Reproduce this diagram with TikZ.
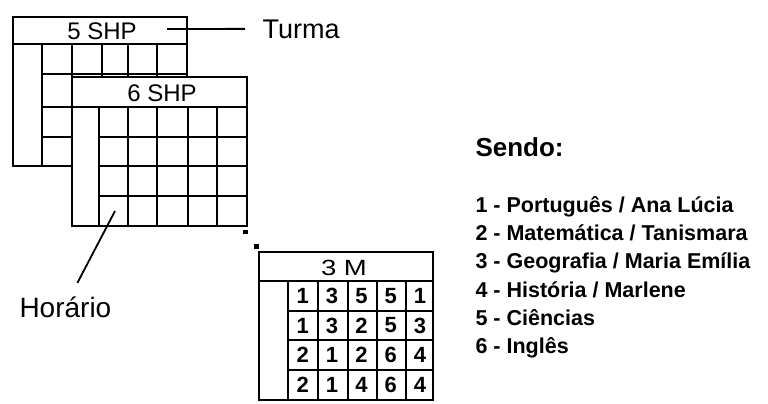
\documentclass[tikz,border=0pt]{standalone}
\usepackage{fontspec}
\setmainfont{Liberation Sans}
\tikzset{
  tab/.style={draw, line width=1.8pt},
  cabec/.style={font=\fontsize{24}{24}\selectfont},
  num/.style={font=\fontsize{22}{22}\selectfont\bfseries},
  rotulo/.style={anchor=base west, font=\fontsize{27}{27}\selectfont},
  item/.style={anchor=base west, font=\fontsize{21.5}{21.5}\selectfont\bfseries},
  liga/.style={line width=1.8pt},
}
\begin{document}
\begin{tikzpicture}[x=1pt,y=-1pt]
\useasboundingbox (0,0) rectangle (768,404);
% turma 5 SHP
\draw[tab] (13,17) rectangle (187,166);
\draw[tab] (13,44) -- (187,44);
\draw[tab] (42,44) -- (42,166);
\foreach \x in {72,102,128,157} \draw[tab] (\x,44) -- (\x,166);
\foreach \y in {74,107,137} \draw[tab] (42,\y) -- (187,\y);
\node[cabec] (T5) at (102,31) {5 SHP};
% turma 6 SHP
\draw[tab, fill=white] (72,77) rectangle (247,226);
\draw[tab] (72,107) -- (247,107);
\draw[tab] (99,107) -- (99,226);
\foreach \x in {128,157,188,217} \draw[tab] (\x,107) -- (\x,226);
\foreach \y in {137,166,196} \draw[tab] (99,\y) -- (247,\y);
\node[cabec] (T6) at (162,93) {6 SHP};
\fill (242.5,229.5) rectangle (248,234);
\fill (253.5,243.5) rectangle (259,248.5);
% turma 3 M
\draw[tab] (259,252) rectangle (433,400);
\draw[tab] (259,281) -- (433,281);
\draw[tab] (288,281) -- (288,400);
\foreach \x in {318,348,377,406} \draw[tab] (\x,281) -- (\x,400);
\foreach \y in {311,340,370} \draw[tab] (288,\y) -- (433,\y);
\node[cabec, font=\fontsize{22}{22}\selectfont, xscale=1.25] (T3) at (344,268) {3 M};
\foreach \linha [count=\i] in {{1,3,5,5,1},{1,3,2,5,3},{2,1,2,6,4},{2,1,4,6,4}}
  \foreach \v [count=\j] in \linha
    \node[num] (n\i\j) at ({273.5+29.3*\j},{266.5+29.5*\i}) {\v};
% rotulos
\coordinate (tu) at (167,29);
\node[rotulo] (turma) at (259,38) {Turma};
\coordinate (hc) at (115,211);
\node[rotulo, font=\fontsize{28}{28}\selectfont] (horario) at (16,317) {Horário};
\path
  (tu) edge [liga, shorten >=14pt] (turma.west)
  ([shift={(12,-10)}]horario.north) edge [liga] (hc)
;
% legenda
\node[item, font=\fontsize{26}{26}\selectfont\bfseries] (sendo) at (472,156) {Sendo:};
\node[item] (L1) at (472,212) {1 - Português / Ana Lúcia};
\node[item] (L2) at (472,240) {2 - Matemática / Tanismara};
\node[item] (L3) at (472,268) {3 - Geografia / Maria Emília};
\node[item] (L4) at (472,297) {4 - História / Marlene};
\node[item] (L5) at (472,325) {5 - Ciências};
\node[item] (L6) at (472,353) {6 - Inglês};
\end{tikzpicture}
\end{document}
